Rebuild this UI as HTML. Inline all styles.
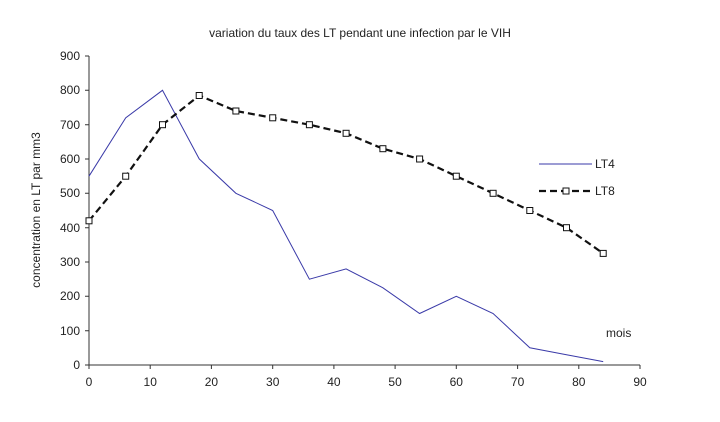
<!DOCTYPE html><html><head><style>body{margin:0;background:#fff}svg{display:block}text{font-family:"Liberation Sans",sans-serif;fill:#222}</style></head><body>
<svg width="720" height="422" viewBox="0 0 720 422">
<text x="360" y="37" font-size="12" text-anchor="middle">variation du taux des LT pendant  une infection par le VIH</text>
<g stroke="#333" stroke-width="1" fill="none">
<line x1="89" y1="56" x2="89" y2="365"/><line x1="89" y1="365" x2="640" y2="365"/>
<path d="M85 56H89M85 90.3H89M85 124.7H89M85 159H89M85 193.3H89M85 227.7H89M85 262H89M85 296.3H89M85 330.7H89M85 365H89"/>
<path d="M89 365V369M150.2 365V369M211.4 365V369M272.7 365V369M333.9 365V369M395.1 365V369M456.3 365V369M517.6 365V369M578.8 365V369M640 365V369"/>
</g>
<g font-size="12" text-anchor="end">
<text x="80" y="60">900</text><text x="80" y="94">800</text><text x="80" y="129">700</text><text x="80" y="163">600</text><text x="80" y="197">500</text><text x="80" y="232">400</text><text x="80" y="266">300</text><text x="80" y="300">200</text><text x="80" y="335">100</text><text x="80" y="369">0</text>
</g>
<g font-size="12" text-anchor="middle">
<text x="89" y="386">0</text><text x="150.2" y="386">10</text><text x="211.4" y="386">20</text><text x="272.7" y="386">30</text><text x="333.9" y="386">40</text><text x="395.1" y="386">50</text><text x="456.3" y="386">60</text><text x="517.6" y="386">70</text><text x="578.8" y="386">80</text><text x="640" y="386">90</text>
</g>
<text transform="translate(40 210) rotate(-90)" font-size="12" text-anchor="middle">concentration en LT par mm3</text>
<text x="606" y="337" font-size="12">mois</text>
<polyline fill="none" stroke="#3a3aa8" stroke-width="1" points="89,176.2 125.7,117.8 162.5,90.3 199.2,158.9 235.9,193.3 272.7,210.5 309.4,279.2 346.1,268.9 382.9,287.8 419.6,313.5 456.3,296.3 493.1,313.5 529.8,347.8 566.5,354.7 603.2,361.6"/>
<polyline fill="none" stroke="#111" stroke-width="2.2" stroke-dasharray="7,4" points="89,220.8 125.7,176.2 162.5,124.7 199.2,95.5 235.9,111 272.7,117.8 309.4,124.7 346.1,133.3 382.9,148.7 419.6,159 456.3,176.2 493.1,193.3 529.8,210.5 566.5,227.7 603.2,253.4"/>
<g fill="#fff" stroke="#111" stroke-width="1">
<rect x="86" y="217.8" width="6" height="6"/><rect x="122.7" y="173.2" width="6" height="6"/><rect x="159.5" y="121.7" width="6" height="6"/><rect x="196.2" y="92.5" width="6" height="6"/><rect x="232.9" y="108" width="6" height="6"/><rect x="269.7" y="114.8" width="6" height="6"/><rect x="306.4" y="121.7" width="6" height="6"/><rect x="343.1" y="130.3" width="6" height="6"/><rect x="379.9" y="145.7" width="6" height="6"/><rect x="416.6" y="156" width="6" height="6"/><rect x="453.3" y="173.2" width="6" height="6"/><rect x="490.1" y="190.3" width="6" height="6"/><rect x="526.8" y="207.5" width="6" height="6"/><rect x="563.5" y="224.7" width="6" height="6"/><rect x="600.2" y="250.4" width="6" height="6"/>
</g>
<line x1="539" y1="164" x2="592" y2="164" stroke="#3a3aa8" stroke-width="1"/>
<text x="595" y="168" font-size="12">LT4</text>
<line x1="539" y1="191" x2="592" y2="191" stroke="#111" stroke-width="2.2" stroke-dasharray="7,4"/>
<rect x="563" y="188" width="6" height="6" fill="#fff" stroke="#111"/>
<text x="595" y="195" font-size="12">LT8</text>
</svg></body></html>
